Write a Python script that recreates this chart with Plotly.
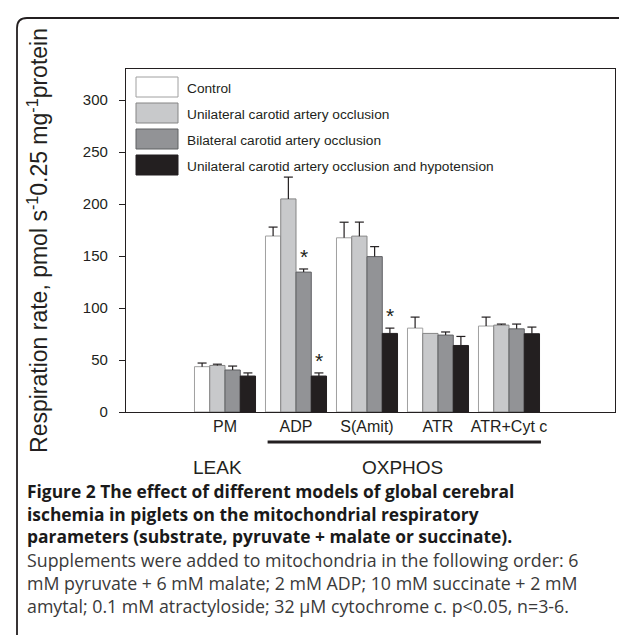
import plotly.graph_objects as go

# ---------------- data ----------------
categories = ["PM", "ADP", "S(Amit)", "ATR", "ATR+Cyt c"]
series_names = [
    "Control",
    "Unilateral carotid artery occlusion",
    "Bilateral carotid artery occlusion",
    "Unilateral carotid artery occlusion and hypotension",
]
control = [43.6, 169.3, 167.6, 80.7, 82.7]
control_err = [3.5, 8.6, 15.0, 10.6, 8.6]
unilateral = [44.8, 205.0, 169.2, 75.6, 83.6]
unilateral_err = [1.2, 21.0, 13.5, 0.0, 1.0]
bilateral = [40.4, 134.6, 149.5, 74.0, 80.0]
bilateral_err = [3.8, 3.0, 9.6, 3.0, 4.6]
hypotension = [34.6, 34.6, 75.6, 64.0, 75.3]
hypotension_err = [3.0, 3.0, 5.1, 8.7, 6.4]
# (category index, series index) marked with *
significant = [(1, 2), (1, 3), (2, 3)]
y_ticks = [0, 50, 100, 150, 200, 250, 300]

caption_bold = [
    "Figure 2 The effect of different models of global cerebral",
    "ischemia in piglets on the mitochondrial respiratory",
    "parameters (substrate, pyruvate + malate or succinate).",
]
caption_regular = [
    "Supplements were added to mitochondria in the following order: 6",
    "mM pyruvate + 6 mM malate; 2 mM ADP; 10 mM succinate + 2 mM",
    "amytal; 0.1 mM atractyloside; 32 \u00b5M cytochrome c. p&lt;0.05, n=3-6.",
]

values = [control, unilateral, bilateral, hypotension]
errors = [control_err, unilateral_err, bilateral_err, hypotension_err]

# ---------------- style ----------------
fills = ["#ffffff", "#c8c9cb", "#929396", "#231f20"]
edges = ["#a0a0a0", "#858585", "#5f6063", "#231f20"]
ink = "#231f20"
arial = "Liberation Sans, Arial, sans-serif"
caption_font = "Open Sans, sans-serif"

W, H = 627, 635
ML, MR, MT, MB = 118, 20, 61, 231
PW, PH = W - ML - MR, H - MT - MB
BARGAP = 0.14
SLOT = 71.0  # px per category


def px(p):
    return (p - ML) / PW


def py(p):
    return (H - MB - p) / PH


n = len(categories)
nser = len(series_names)
xpos = list(range(n))
bar_w = (1 - BARGAP) / nser
cap = 4.5 / SLOT

fig = go.Figure()
for si, (name, v, f, ec) in enumerate(zip(series_names, values, fills, edges)):
    fig.add_trace(go.Bar(
        x=xpos, y=v, name=name,
        marker=dict(color=f, line=dict(color=ec, width=1)),
    ))

# one-sided (upper) error bars
for si in range(nser):
    xs, ys = [], []
    for ci in range(n):
        e = errors[si][ci]
        if e <= 0:
            continue
        xc = ci + (si - (nser - 1) / 2) * bar_w
        top = values[si][ci]
        hi = top + e
        xs += [xc, xc, None, xc - cap, xc + cap, None]
        ys += [top, hi, None, hi, hi, None]
    fig.add_trace(go.Scatter(
        x=xs, y=ys, mode="lines", line=dict(color=ink, width=1.2),
        hoverinfo="skip", showlegend=False,
    ))

annotations = []
shapes = []

# significance asterisks
for ci, si in significant:
    off = (si - (nser - 1) / 2) * bar_w
    annotations.append(dict(
        x=ci + off, y=values[si][ci] + errors[si][ci], xref="x", yref="y",
        text="*", showarrow=False, yanchor="bottom", yshift=-1,
        font=dict(family=arial, size=21, color=ink),
    ))

# manual legend (large swatches as in the reference)
row_y = [79, 105, 131, 157]
for i, name in enumerate(series_names):
    shapes.append(dict(
        type="rect", xref="paper", yref="paper",
        x0=px(128), x1=px(170), y0=py(row_y[i] + 10), y1=py(row_y[i] - 10),
        fillcolor=fills[i], line=dict(color=edges[i], width=1),
    ))
    annotations.append(dict(
        x=px(177), y=py(row_y[i] + 1), xref="paper", yref="paper",
        xanchor="left", yanchor="middle", text=name, showarrow=False,
        font=dict(family=arial, size=13.7, color=ink),
    ))

# group labels
annotations.append(dict(x=-0.11, y=py(459), xref="x", yref="paper",
                        text="LEAK", showarrow=False, yanchor="middle",
                        font=dict(family=arial, size=19, color=ink)))
annotations.append(dict(x=2.5, y=py(459), xref="x", yref="paper",
                        text="OXPHOS", showarrow=False, yanchor="middle",
                        font=dict(family=arial, size=19, color=ink)))
shapes.append(dict(type="line", xref="x", yref="paper", x0=0.6, x1=4.45,
                   y0=py(434), y1=py(434), line=dict(color=ink, width=3)))

# caption: two multi-line blocks
annotations.append(dict(
    x=px(18), y=py(505), xref="paper", yref="paper",
    xanchor="left", yanchor="middle", align="left", showarrow=False,
    borderpad=0,
    text="<br>".join(f"<b>{t}</b>" for t in caption_bold),
    font=dict(family=caption_font, size=17.4, color="#1a1a1a"),
))
annotations.append(dict(
    x=px(18), y=py(575), xref="paper", yref="paper",
    xanchor="left", yanchor="middle", align="left", showarrow=False,
    borderpad=0,
    text="<br>".join(caption_regular),
    font=dict(family=caption_font, size=17.8, color="#3a3a3a"),
))

# outer rounded frame
r = 10
x0, x1, y0, y1 = 9, 631, 10, 660
path = (f"M {px(x0)},{py(y1)} L {px(x0)},{py(y0 + r)} "
        f"Q {px(x0)},{py(y0)} {px(x0 + r)},{py(y0)} "
        f"L {px(x1 - r)},{py(y0)} Q {px(x1)},{py(y0)} {px(x1)},{py(y0 + r)} "
        f"L {px(x1)},{py(y1)}")
shapes.append(dict(type="path", xref="paper", yref="paper", path=path,
                   line=dict(color=ink, width=1.8)))

x_lo = -(217 - ML) / SLOT
fig.update_layout(
    width=W, height=H,
    margin=dict(l=ML, r=MR, t=MT, b=MB, pad=0),
    paper_bgcolor="white", plot_bgcolor="white",
    barmode="group", bargap=BARGAP, bargroupgap=0,
    showlegend=False,
    annotations=annotations, shapes=shapes,
    xaxis=dict(
        range=[x_lo, x_lo + PW / SLOT], tickvals=xpos, ticktext=categories,
        showline=True, linecolor=ink, linewidth=1.3, mirror=True,
        ticks="", showgrid=False, zeroline=False, automargin=False,
        tickfont=dict(family=arial, size=16, color=ink),
    ),
    yaxis=dict(
        range=[0, 330], tickvals=y_ticks, ticks="outside", ticklen=6,
        tickwidth=1.2, tickcolor=ink, ticklabelstandoff=8,
        showline=True, linecolor=ink, linewidth=1.3, mirror=True,
        showgrid=False, zeroline=False,
        tickfont=dict(family=arial, size=15, color=ink),
        title=dict(
            text="Respiration rate, pmol s<sup>-1</sup>0.25 mg<sup>-1</sup>protein",
            font=dict(family=arial, size=23, color=ink), standoff=28,
        ),
        automargin=False,
    ),
)

fig.write_html("out.html")
